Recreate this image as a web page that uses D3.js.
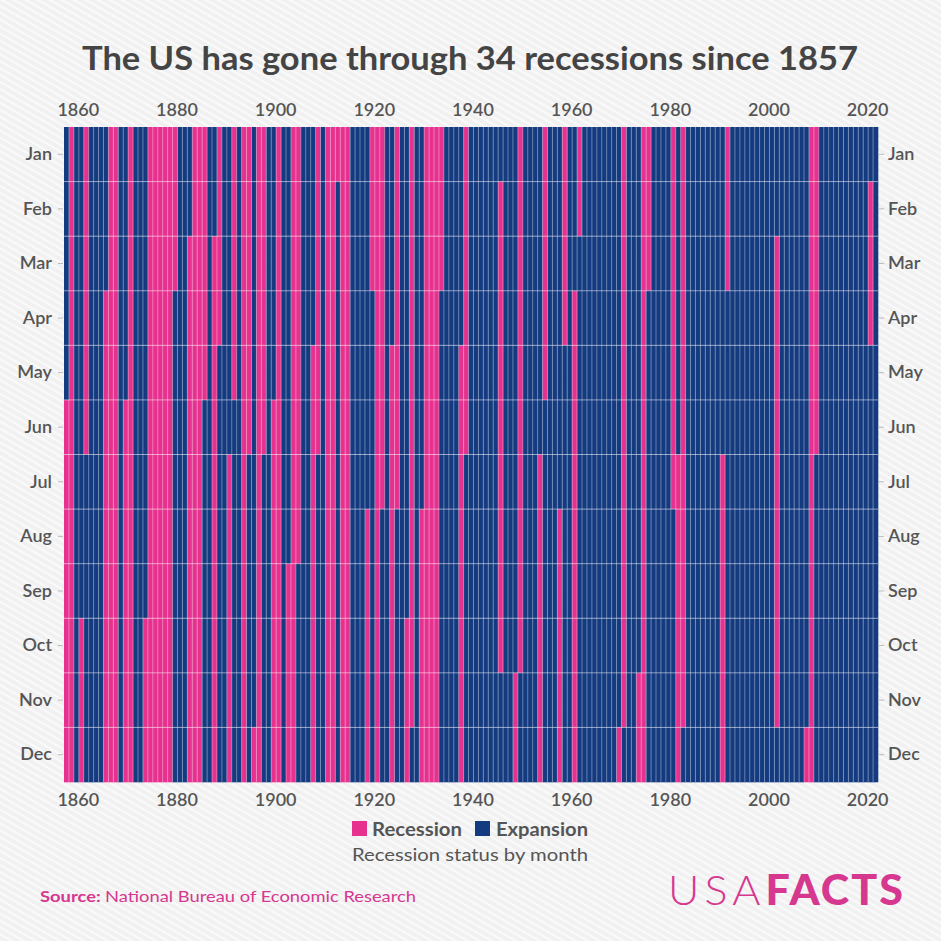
<!DOCTYPE html>
<html>
<head>
<meta charset="utf-8">
<script src="https://cdn.jsdelivr.net/npm/d3@7"></script>
<style>
html,body{margin:0;padding:0;background:#efefef;}
svg{display:block;}
</style>
</head>
<body>
<svg id="chart" width="941" height="941"></svg>
<script>
// NBER business cycle reference dates (peak month, trough month)
const peaks = ["1857-06","1860-10","1865-04","1869-06","1873-10","1882-03","1887-03","1890-07","1893-01","1895-12","1899-06","1902-09","1907-05","1910-01","1913-01","1918-08","1920-01","1923-05","1926-10","1929-08","1937-05","1945-02","1948-11","1953-07","1957-08","1960-04","1969-12","1973-11","1980-01","1981-07","1990-07","2001-03","2007-12","2020-02"];
const troughs = ["1858-12","1861-06","1867-12","1870-12","1879-03","1885-05","1888-04","1891-05","1894-06","1897-06","1900-12","1904-08","1908-06","1912-01","1914-12","1919-03","1921-07","1924-07","1927-11","1933-03","1938-06","1945-10","1949-10","1954-05","1958-04","1961-02","1970-11","1975-03","1980-07","1982-11","1991-03","2001-11","2009-06","2020-04"];
const firstYear = 1857, lastYear = 2021;
const months = ["Jan","Feb","Mar","Apr","May","Jun","Jul","Aug","Sep","Oct","Nov","Dec"];
const yearTicks = [1860,1880,1900,1920,1940,1960,1980,2000,2020];
const seriesNames = ["Recession","Expansion"];

const PINK = "#e6318f", NAVY = "#143a80", TEXT = "#555555";

const idx = s => { const [y,m] = s.split("-").map(Number); return y*12 + (m-1); };
const ranges = peaks.map((p,i) => [idx(p), idx(troughs[i])]);
const years = d3.range(firstYear, lastYear+1);
const cells = [];
years.forEach(y => months.forEach((m,mi) => {
  const k = y*12+mi;
  const rec = ranges.some(([a,b]) => k>=a && k<=b);
  cells.push({year:y, month:m, status: rec ? "Recession" : "Expansion"});
}));

const svg = d3.select("#chart");
// background with diagonal stripes
const defs = svg.append("defs");
const pat = defs.append("pattern").attr("id","stripes").attr("width",6).attr("height",6)
  .attr("patternUnits","userSpaceOnUse").attr("patternTransform","rotate(-60)");
pat.append("rect").attr("width",6).attr("height",6).attr("fill","#f1f1f1");
pat.append("rect").attr("width",2).attr("height",6).attr("fill","#fafafa");
svg.append("rect").attr("width",941).attr("height",941).attr("fill","url(#stripes)");

const L = 64, R = 878, T = 127, B = 782;
const x = d3.scaleLinear().domain([firstYear, lastYear+1]).range([L, R]);
const y = d3.scaleBand().domain(months).range([T, B]).padding(0);
const color = d3.scaleOrdinal().domain(seriesNames).range([PINK, NAVY]);

const g = svg.append("g");
g.selectAll("rect.cell").data(cells).join("rect")
  .attr("class","cell")
  .attr("x", d => x(d.year))
  .attr("y", d => y(d.month))
  .attr("width", d => x(d.year+1) - x(d.year) + 0.3)
  .attr("height", y.bandwidth() + 0.3)
  .attr("fill", d => color(d.status));

// vertical year separators
g.selectAll("line.vy").data(years.slice(1)).join("line")
  .attr("x1", d => x(d)).attr("x2", d => x(d))
  .attr("y1", T).attr("y2", B)
  .attr("stroke", "#ffffff").attr("stroke-opacity", 0.4).attr("stroke-width", 0.9);
// horizontal month separators
g.selectAll("line.hm").data(months.slice(1)).join("line")
  .attr("x1", L).attr("x2", R)
  .attr("y1", d => y(d)).attr("y2", d => y(d))
  .attr("stroke", "#ffffff").attr("stroke-opacity", 0.5).attr("stroke-width", 1);

const fontFam = "Lato, 'Noto Sans', sans-serif";
function styleAxis(sel){
  sel.select(".domain").remove();
  sel.selectAll("text").attr("fill", TEXT).style("font-family", fontFam)
     .style("font-size","18px").style("font-weight","600");
  sel.selectAll(".tick line").attr("stroke","#bbbbbb");
}
const fmt = d => String(d);
svg.append("g").attr("transform", `translate(-1,${T-8})`)
  .call(d3.axisTop(x).tickValues(yearTicks).tickFormat(fmt).tickSize(0).tickPadding(3))
  .call(styleAxis);
svg.append("g").attr("transform", `translate(-1,${B+8})`)
  .call(d3.axisBottom(x).tickValues(yearTicks).tickFormat(fmt).tickSize(0).tickPadding(3))
  .call(styleAxis);
svg.append("g").attr("transform", `translate(${L-1},0)`)
  .call(d3.axisLeft(y).tickSize(5).tickPadding(6))
  .call(styleAxis);
svg.append("g").attr("transform", `translate(${R+1},0)`)
  .call(d3.axisRight(y).tickSize(5).tickPadding(4))
  .call(styleAxis);

// title
svg.append("text").attr("x", 470).attr("y", 70).attr("text-anchor","middle")
  .attr("textLength", 776).attr("lengthAdjust","spacingAndGlyphs")
  .style("font-family", fontFam).style("font-weight","700").style("font-size","33px")
  .attr("fill","#444444").text("The US has gone through 34 recessions since 1857");

// legend
const leg = svg.append("g");
const legItems = [{name:"Recession", x:352, tx:372, w:90},{name:"Expansion", x:475, tx:496, w:92}];
legItems.forEach(it => {
  leg.append("rect").attr("x", it.x).attr("y", 821).attr("width", 15).attr("height", 15)
    .attr("fill", color(it.name));
  leg.append("text").attr("x", it.tx).attr("y", 836)
    .attr("textLength", it.w).attr("lengthAdjust","spacingAndGlyphs")
    .style("font-family", fontFam).style("font-weight","700").style("font-size","18px")
    .attr("fill", TEXT).text(it.name);
});
svg.append("text").attr("x", 470).attr("y", 861).attr("text-anchor","middle")
  .attr("textLength", 236).attr("lengthAdjust","spacingAndGlyphs")
  .style("font-family", fontFam).style("font-size","18px").attr("fill", TEXT)
  .text("Recession status by month");

// source
const src = svg.append("text").attr("x", 40).attr("y", 902)
  .attr("textLength", 376).attr("lengthAdjust","spacingAndGlyphs")
  .style("font-family", fontFam).style("font-size","16px").attr("fill", "#d6378f");
src.append("tspan").style("font-weight","700").text("Source: ");
src.append("tspan").text("National Bureau of Economic Research");

// logo
const logo = svg.append("text").attr("x", 668).attr("y", 905)
  .attr("textLength", 237).attr("lengthAdjust","spacingAndGlyphs")
  .style("font-family", fontFam).style("font-size","42px").attr("fill", "#d6378f");
logo.append("tspan").style("font-weight","300").attr("letter-spacing","5px").text("USA");
logo.append("tspan").style("font-weight","900").attr("letter-spacing","2px").text("FACTS");
</script>
</body>
</html>
